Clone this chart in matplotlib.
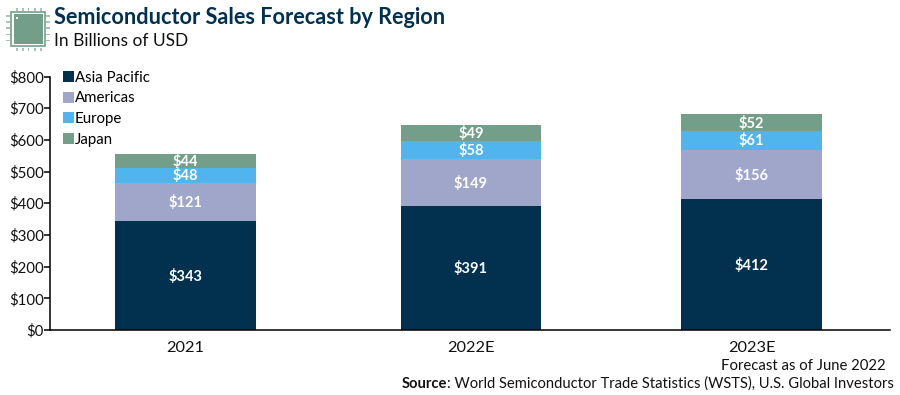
import matplotlib
matplotlib.use('Agg')
import matplotlib.pyplot as plt
from matplotlib.patches import Rectangle

regions = ['Asia Pacific', 'Americas', 'Europe', 'Japan']
years = ['2021', '2022E', '2023E']
asia = [343, 391, 412]
americas = [121, 149, 156]
europe = [48, 58, 61]
japan = [44, 49, 52]
yticks = [0, 100, 200, 300, 400, 500, 600, 700, 800]

colors = ['#02304f', '#9fa6ca', '#4fb5ec', '#739f8a']
W, H = 900, 395

plt.rcParams['font.family'] = ['Lato', 'DejaVu Sans']
fig = plt.figure(figsize=(W / 100, H / 100), dpi=100)


def fx(px):
    return px / W


def fy(py):
    return 1 - py / H


ax = fig.add_axes([fx(50), fy(330), fx(840), fy(76.5) - fy(330)])
ax.set_xlim(50, 890)
ax.set_ylim(0, 800)
xpos = [185.5, 471, 751.5]

bottom = [0, 0, 0]
for name, vals, color in zip(regions, [asia, americas, europe, japan], colors):
    ax.bar(xpos, vals, width=140.5, bottom=bottom, color=color, label=name)
    for x, b, v in zip(xpos, bottom, vals):
        ax.text(x, b + v / 2 - 2, '$%d' % v, ha='center', va='center', color='white',
                fontsize=10.5, fontweight='bold')
    bottom = [b + v for b, v in zip(bottom, vals)]

for side in ['top', 'right']:
    ax.spines[side].set_visible(False)
ax.spines['left'].set_linewidth(1.1)
ax.spines['bottom'].set_linewidth(1.1)
ax.set_yticks(yticks)
ax.set_yticklabels(['$%d' % y for y in yticks], fontsize=10.8, color='#111111')
ax.tick_params(axis='y', length=4, width=1.1, pad=0.5)
ax.set_xticks(xpos)
ax.set_xticklabels(years, fontsize=11.8, color='#111111')
ax.tick_params(axis='x', length=0, pad=8)

ax.legend(loc='upper left', bbox_to_anchor=(13 / 840, 1 + 6 / 253.5), frameon=False,
          fontsize=10.8, handlelength=0.75, handleheight=0.75, handletextpad=0.05,
          labelspacing=0.45, borderaxespad=0, borderpad=0)

# title block
fig.text(fx(54), fy(18), 'Semiconductor Sales Forecast by Region', fontsize=15.6,
         fontweight='bold', color='#02304f', va='center')
fig.text(fx(54), fy(41), 'In Billions of USD', fontsize=12.5, color='#111111', va='center')

# footer
fig.text(fx(886), fy(366), 'Forecast as of June 2022', fontsize=10.7, color='#111111',
         ha='right', va='center')
src = fig.text(fx(894), fy(384), ': World Semiconductor Trade Statistics (WSTS), U.S. Global Investors',
               fontsize=10.6, color='#111111', ha='right', va='center')
fig.canvas.draw()
left = src.get_window_extent().x0 / W
fig.text(left, fy(384), 'Source', fontsize=10.6, fontweight='bold', color='#111111',
         ha='right', va='center')

# chip icon
green = '#739f8a'
pin = '#a9c4b7'
fig.patches.append(Rectangle((fx(11), fy(46)), 34 / W, 34 / H, transform=fig.transFigure,
                             facecolor='white', edgecolor=green, linewidth=1.2))
fig.patches.append(Rectangle((fx(14), fy(43.5)), 28.5 / W, 29 / H, transform=fig.transFigure,
                             facecolor=green, edgecolor='none'))
fig.patches.append(Rectangle((fx(16), fy(19)), 2 / W, 2 / H, transform=fig.transFigure,
                             facecolor='white', edgecolor='none'))
for i in range(5):
    p = 16 + i * 6
    for y in [8, 48]:
        fig.patches.append(Rectangle((fx(p), fy(y + 3)), 1.5 / W, 3 / H, transform=fig.transFigure,
                                     facecolor=pin, edgecolor='none'))
    q = 15 + i * 6.2
    for x in [6, 46]:
        fig.patches.append(Rectangle((fx(x), fy(q + 1.5)), 3.5 / W, 1.5 / H, transform=fig.transFigure,
                                     facecolor=pin, edgecolor='none'))

fig.savefig('out.png', dpi=100)
